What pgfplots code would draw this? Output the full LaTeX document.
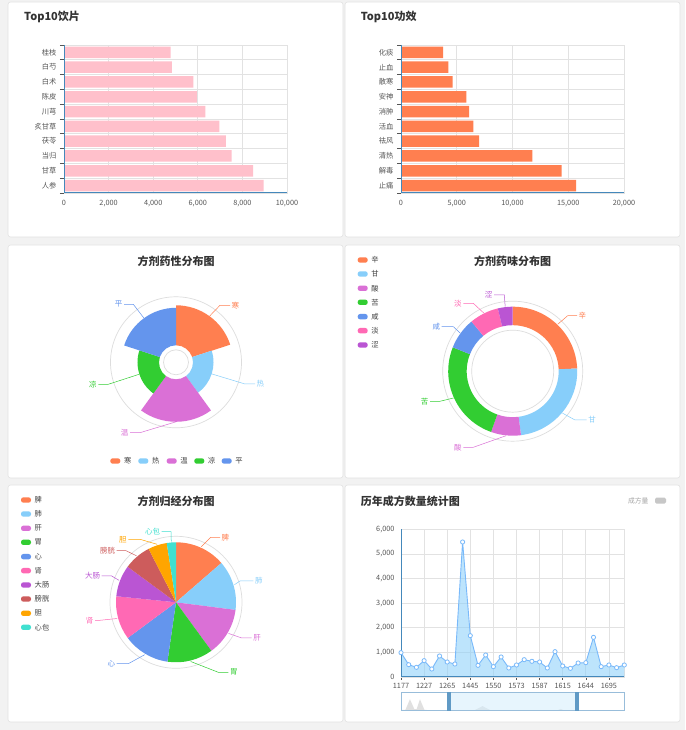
\documentclass[border=0pt]{standalone}
\usepackage{fontspec}
\setmainfont{Noto Sans CJK SC}
\usepackage{pgfplots}
\usepackage{pgfplotstable}
\pgfplotsset{compat=1.18}

\definecolor{cA}{HTML}{FF7F50}
\definecolor{cB}{HTML}{87CEFA}
\definecolor{cC}{HTML}{DA70D6}
\definecolor{cD}{HTML}{32CD32}
\definecolor{cE}{HTML}{6495ED}
\definecolor{cF}{HTML}{FF69B4}
\definecolor{cG}{HTML}{BA55D3}
\definecolor{cH}{HTML}{CD5C5C}
\definecolor{cI}{HTML}{FFA500}
\definecolor{cJ}{HTML}{40E0D0}
\definecolor{pinkbar}{HTML}{FFC0CB}
\definecolor{axb}{HTML}{4488BB}
\definecolor{gridc}{HTML}{E2E2E2}
\definecolor{tickc}{HTML}{555555}
\definecolor{labc}{HTML}{555555}
\definecolor{ringc}{HTML}{DDDDDD}
\definecolor{bgc}{HTML}{F2F2F2}
\definecolor{panelc}{HTML}{E2E2E2}

\newcommand\tk{\fontsize{7.3}{9}\selectfont}
\newcommand\lab{\fontsize{7.5}{9}\selectfont}
\newcommand\ttl{\fontsize{11}{13}\selectfont\bfseries}

% full pie sector: start, end, radius, colour
\newcommand\psec[4]{\fill[#4] (axis cs:0,0) -- ([shift={(#1:#3pt)}]axis cs:0,0) arc[start angle=#1,end angle=#2,radius=#3pt] -- cycle;}
% ring sector: start, end, inner r, outer r, colour
\newcommand\asec[5]{\fill[#5] ([shift={(#1:#3pt)}]axis cs:0,0) arc[start angle=#1,end angle=#2,radius=#3pt] -- ([shift={(#2:#4pt)}]axis cs:0,0) arc[start angle=#2,end angle=#1,radius=#4pt] -- cycle;}
% leader line + label
\newcommand\plab[8]{%
  \draw[#7,line width=0.5pt] (axis cs:#1,#2) -- (axis cs:#3,#4) -- (axis cs:#5,#6);
  \ifdim #5pt>#3pt
    \node[text=#7,anchor=west,inner sep=1.5pt,font=\lab] at (axis cs:#5,#6) {#8};
  \else
    \node[text=#7,anchor=east,inner sep=1.5pt,font=\lab] at (axis cs:#5,#6) {#8};
  \fi}
\newcommand\legitem[4]{%
  \fill[#3,rounded corners=2.4pt] ({#1-5},{#2-2.7}) rectangle ({#1+5},{#2+2.7});
  \node[anchor=west,font=\tk,text=black!75,inner sep=0pt] at ({#1+8.5},#2) {#4};}

\pgfplotsset{
  hbar/.style={
    scale only axis, anchor=south west, width=223pt, height=148pt,
    xbar, bar width=11.5pt, xmin=0, ymin=-0.5, ymax=9.5,
    ytick={0,...,9}, minor ytick={-0.5,0.5,...,9.5},
    tick pos=left, tick align=outside,
    major tick length=4pt, minor tick length=4pt,
    major y tick style={draw=none},
    minor y tick style={draw=tickc,line width=0.6pt},
    xtick style={draw=none},
    xmajorgrids, yminorgrids,
    major grid style={draw=gridc,line width=0.7pt},
    minor grid style={draw=gridc,line width=0.7pt},
    axis line style={draw=gridc,line width=0.7pt},
    tick label style={font=\tk,text=labc},
    scaled x ticks=false,
    /pgf/number format/assume math mode=true,
    /pgf/number format/1000 sep={,},
  },
  pieax/.style={hide axis, x=1pt, y=1pt, xmin=-100, xmax=100, ymin=-100, ymax=100,
    clip=false, anchor=center},
}

\pgfplotstableread{
x y
0 989
1 501
2 393
3 664
4 325
5 853
6 610
7 528
8 5485
9 1680
10 474
11 894
12 420
13 813
14 366
15 488
16 704
17 637
18 610
19 366
20 1029
21 447
22 352
23 569
24 582
25 1612
26 420
27 488
28 379
29 488
}\yeardata

\pgfplotstableread{
x y
0 0.04
0.02 0.05
0.04 0.62
0.06 0.08
0.07 0.08
0.085 0.62
0.105 0.04
0.2 0.02
0.33 0.03
0.365 0.25
0.40 0.03
0.6 0.02
0.7 0.02
0.715 0.1
0.73 0.02
1 0.02
}\shadowdata

\begin{document}
\begin{tikzpicture}[x=1pt,y=1pt]
% page background and panels
\fill[bgc] (0,0) rectangle (685,730);
\foreach \a/\b/\c/\d in {8/493/343/728, 345/493/680/728, 8/252/343/485, 345/252/680/485, 8/8/343/245, 345/8/680/245}
  \filldraw[fill=white,draw=panelc,line width=0.6pt,rounded corners=2.5pt] (\a,\b) rectangle (\c,\d);

% titles
\node[anchor=west,font=\ttl,text=black!80] at (20.7,712.7) {Top10饮片};
\node[anchor=west,font=\ttl,text=black!80] at (357.3,712.7) {Top10功效};
\node[font=\ttl,text=black!80] at (176,468.3) {方剂药性分布图};
\node[font=\ttl,text=black!80] at (512.7,468.3) {方剂药味分布图};
\node[font=\ttl,text=black!80] at (176,228.3) {方剂归经分布图};
\node[anchor=west,font=\ttl,text=black!80] at (357.3,228.3) {历年成方数量统计图};

% Top10 饮片
\begin{axis}[hbar, at={(64pt,537pt)}, xmax=10000, xtick={0,2000,...,10000},
  yticklabels={人参,甘草,当归,茯苓,炙甘草,川芎,陈皮,白术,白芍,桂枝}]
\addplot[fill=pinkbar,draw=none] coordinates {
  (8955,0) (8478,1) (7522,2) (7254,3) (6970,4) (6343,5) (5955,6) (5806,7) (4836,8) (4776,9)};
\draw[axb,line width=1.4pt] (rel axis cs:0,1) -- (rel axis cs:0,0) -- (rel axis cs:1,0);
\end{axis}

% Top10 功效
\begin{axis}[hbar, at={(401pt,537pt)}, xmax=20000, xtick={0,5000,...,20000},
  yticklabels={止痛,解毒,清热,祛风,活血,消肿,安神,散寒,止血,化痰}]
\addplot[fill=cA,draw=none] coordinates {
  (15695,0) (14410,1) (11779,2) (6996,3) (6487,4) (6099,5) (5859,6) (4634,7) (4245,8) (3767,9)};
\draw[axb,line width=1.4pt] (rel axis cs:0,1) -- (rel axis cs:0,0) -- (rel axis cs:1,0);
\end{axis}

% 方剂药性分布图 (rose)
\begin{axis}[pieax, at={(176pt,367.7pt)}]
\draw[ringc,line width=0.7pt] (axis cs:0,0) circle[radius=65.5pt];
\asec{90}{18}{17}{57}{cA}
\asec{18}{-54}{17}{37.5}{cB}
\asec{-54}{-126}{17}{59.5}{cC}
\asec{-126}{-198}{17}{38.5}{cD}
\asec{-198}{-270}{17}{54.5}{cE}
\draw[ringc,line width=0.7pt] (axis cs:0,0) circle[radius=12.5pt];
\plab{33.5}{46.1}{44}{57}{54}{57}{cA}{寒}
\plab{35.7}{-11.6}{69}{-21.7}{79}{-21.7}{cB}{热}
\plab{0}{-59.5}{-36}{-70.4}{-46}{-70.4}{cC}{温}
\plab{-36.6}{-11.9}{-67.7}{-22}{-77.7}{-22}{cD}{凉}
\plab{-32}{44.1}{-42.7}{58}{-52}{58}{cE}{平}
\end{axis}
\legitem{115.3}{269}{cA}{寒}
\legitem{143.3}{269}{cB}{热}
\legitem{171.7}{269}{cC}{温}
\legitem{199.3}{269}{cD}{凉}
\legitem{226.7}{269}{cE}{平}

% 方剂药味分布图 (donut)
\begin{axis}[pieax, at={(512.7pt,358.8pt)}]
\draw[ringc,line width=0.7pt] (axis cs:0,0) circle[radius=70pt];
\asec{90}{2.4}{46}{64.5}{cA}
\asec{2.4}{-82.6}{46}{64.5}{cB}
\asec{-82.6}{-109.6}{46}{64.5}{cC}
\asec{-109.6}{-201.7}{46}{64.5}{cD}
\asec{-201.7}{-230.3}{46}{64.5}{cE}
\asec{-230.3}{-256.7}{46}{64.5}{cF}
\asec{-256.7}{-270}{46}{64.5}{cG}
\draw[ringc,line width=0.7pt] (axis cs:0,0) circle[radius=41pt];
\plab{45}{46.9}{55}{55.5}{64.3}{55.5}{cA}{辛}
\plab{49.7}{-41.9}{62.3}{-48.8}{74}{-48.8}{cB}{甘}
\plab{-6.9}{-64.6}{-39.4}{-76.1}{-49.4}{-76.1}{cC}{酸}
\plab{-59.2}{-26.8}{-72.7}{-30.1}{-82.7}{-30.1}{cD}{苦}
\plab{-52.6}{38.2}{-59.4}{44.5}{-71}{44.5}{cE}{咸}
\plab{-29}{58.2}{-39.4}{67.9}{-49.4}{67.9}{cF}{淡}
\plab{-7.5}{64.6}{-8.4}{76.2}{-18.7}{76.2}{cG}{涩}
\end{axis}
\legitem{362.7}{470}{cA}{辛}
\legitem{362.7}{456}{cB}{甘}
\legitem{362.7}{441.7}{cC}{酸}
\legitem{362.7}{427.7}{cD}{苦}
\legitem{362.7}{413.3}{cE}{咸}
\legitem{362.7}{399.3}{cF}{淡}
\legitem{362.7}{385}{cG}{涩}

% 方剂归经分布图 (pie)
\begin{axis}[pieax, at={(176pt,127.7pt)}]
\draw[ringc,line width=0.7pt] (axis cs:0,0) circle[radius=66pt];
\psec{90}{40.9}{60}{cA}
\psec{40.9}{-7.3}{60}{cB}
\psec{-7.3}{-53.9}{60}{cC}
\psec{-53.9}{-98.2}{60}{cD}
\psec{-98.2}{-143.5}{60}{cE}
\psec{-143.5}{-185.8}{60}{cF}
\psec{-185.8}{-216.3}{60}{cG}
\psec{-216.3}{-242.9}{60}{cH}
\psec{-242.9}{-261.1}{60}{cI}
\psec{-261.1}{-270}{60}{cJ}
\plab{25.3}{55.5}{34.7}{65}{44}{65}{cA}{脾}
\plab{58.4}{17.6}{64}{21.3}{77.3}{21.3}{cB}{肺}
\plab{52.5}{-31.1}{65.7}{-35.7}{75.7}{-35.7}{cC}{肝}
\plab{14.7}{-59.2}{42.3}{-70}{52.3}{-70}{cD}{胃}
\plab{-31.3}{-52.4}{-47.7}{-61.4}{-59.3}{-61.4}{cE}{心}
\plab{-58.8}{-16.2}{-76}{-18}{-81}{-18}{cF}{肾}
\plab{-56.9}{21.9}{-64.3}{26.3}{-74.3}{26.3}{cG}{大肠}
\plab{-39.5}{46.5}{-50}{51.6}{-59.3}{51.6}{cH}{膀胱}
\plab{-18.9}{58}{-36}{63}{-47.7}{63}{cI}{胆}
\plab{-4.7}{60.8}{-5}{70.6}{-14.3}{70.6}{cJ}{心包}
\end{axis}
\legitem{26}{230}{cA}{脾}
\legitem{26}{216}{cB}{肺}
\legitem{26}{201.7}{cC}{肝}
\legitem{26}{187.7}{cD}{胃}
\legitem{26}{173.3}{cE}{心}
\legitem{26}{159.3}{cF}{肾}
\legitem{26}{145}{cG}{大肠}
\legitem{26}{131}{cH}{膀胱}
\legitem{26}{116.7}{cI}{胆}
\legitem{26}{102.7}{cJ}{心包}

% 历年成方数量统计图
\node[anchor=east,font=\fontsize{6.8}{8}\selectfont,text=black!35] at (652,229.3) {成方量};
\fill[black!22,rounded corners=1.5pt] (655,226.3) rectangle (666,232.3);
\begin{axis}[scale only axis, anchor=south west, at={(401pt,53pt)}, width=223.3pt, height=147.7pt,
  xmin=0, xmax=29, ymin=0, ymax=6000,
  xtick={0,3,...,27}, xticklabels={1177,1227,1265,1445,1550,1573,1587,1615,1644,1695},
  ytick={0,1000,...,6000},
  tick pos=left, tick align=outside, major tick length=3pt,
  ytick style={draw=none}, xtick style={draw=tickc,line width=0.6pt},
  grid=major, major grid style={draw=gridc,line width=0.7pt},
  axis line style={draw=gridc,line width=0.7pt},
  tick label style={font=\tk,text=labc},
  scaled y ticks=false,
  /pgf/number format/assume math mode=true,
  /pgf/number format/1000 sep={,}]
\addplot[fill=cB,fill opacity=0.55,draw=none] table[x=x,y=y] {\yeardata} \closedcycle;
\draw[axb,line width=1.4pt] (rel axis cs:0,1) -- (rel axis cs:0,0) -- (rel axis cs:1,0);
\addplot[cB!90!blue,line width=0.9pt,mark=*,mark size=2.1pt,
  mark options={solid,fill=white,draw=cB!90!blue,line width=0.8pt}] table[x=x,y=y] {\yeardata};
\end{axis}

% data zoom slider
\fill[white] (401,19.3) rectangle (624.3,37.7);
\begin{axis}[scale only axis, anchor=south west, at={(401pt,19.3pt)}, width=223.3pt, height=18.4pt,
  hide axis, xmin=0, xmax=1, ymin=0, ymax=1]
\addplot[fill=black!12,draw=none] table[x=x,y=y] {\shadowdata} \closedcycle;
\end{axis}
\fill[cB!35,opacity=0.55] (450.7,19.3) rectangle (575,37.7);
\draw[axb!55,line width=0.7pt] (401,19.3) rectangle (624.3,37.7);
\fill[axb!85] (446.7,19.3) rectangle (450.7,37.7);
\fill[axb!85] (575,19.3) rectangle (579.3,37.7);

\pgfresetboundingbox
\path[use as bounding box] (0,0) rectangle (685,730);
\end{tikzpicture}
\end{document}
